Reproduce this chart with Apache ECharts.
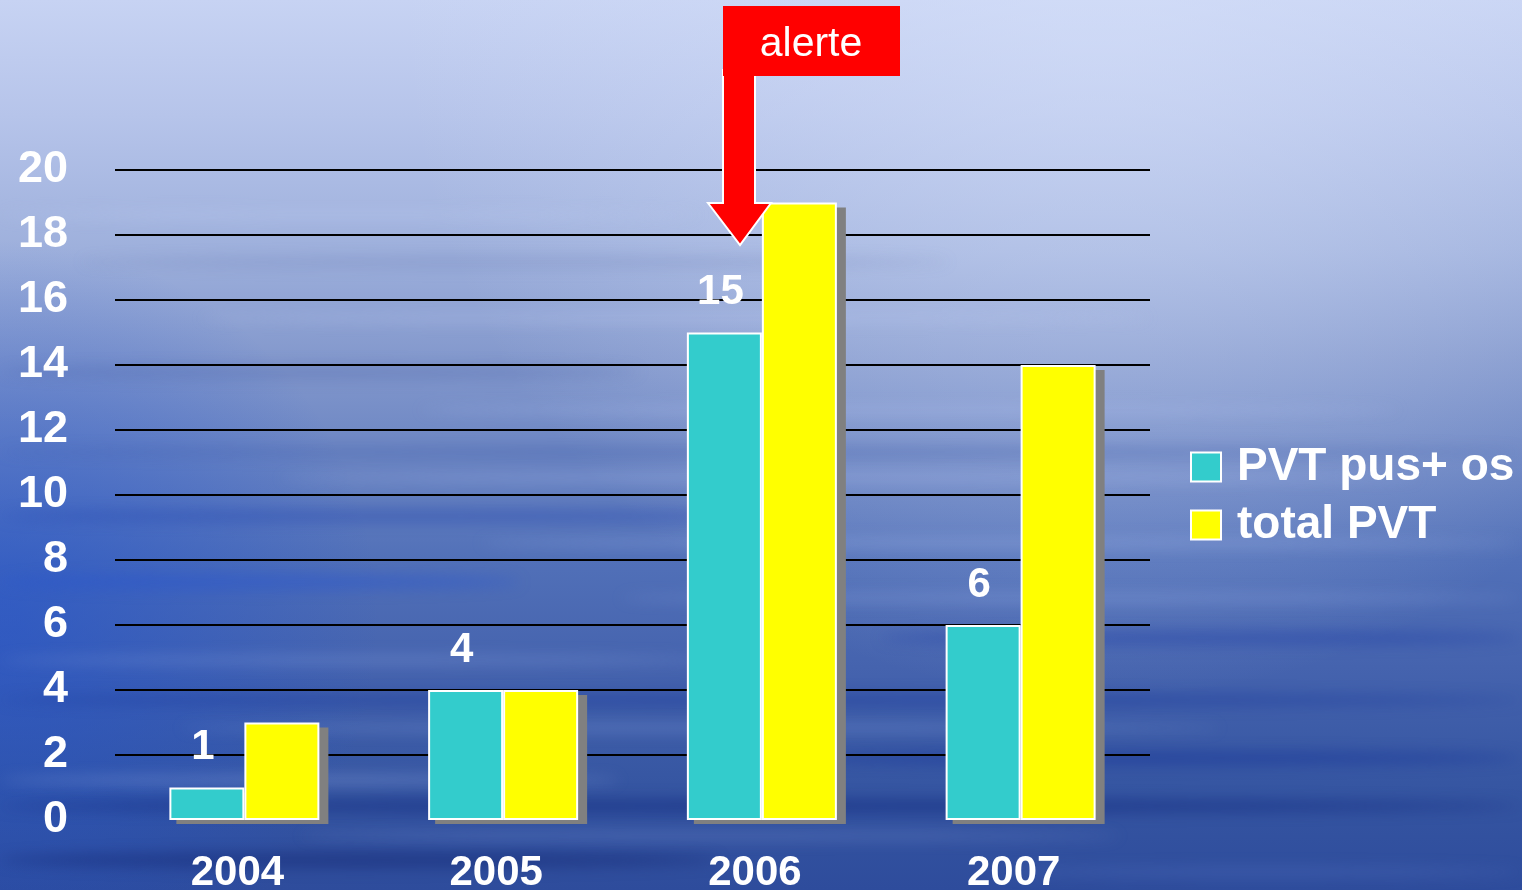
<!DOCTYPE html>
<html>
<head>
<meta charset="utf-8">
<title>PVT 2004-2007</title>
<script src="https://cdn.jsdelivr.net/npm/echarts@6/dist/echarts.min.js"></script>
<style>
  html, body { margin: 0; padding: 0; width: 1522px; height: 890px; overflow: hidden; }
  #wrap { position: relative; width: 1522px; height: 890px; overflow: hidden; }
  #bg { position: absolute; left: 0; top: 0; }
  #chart { position: absolute; left: 0; top: 0; width: 1522px; height: 890px; }
</style>
</head>
<body>
<div id="wrap">
  <canvas id="bg" width="1522" height="890"></canvas>
  <div id="chart"></div>
</div>
<script>
// Years on the category axis
const years = ['2004', '2005', '2006', '2007'];
// PVT with pus and bone involvement
const pvtPusOs = [1, 4, 15, 6];
// All PVT cases
const totalPvt = [3, 4, 19, 14];
// Value axis ticks
const yTicks = [0, 2, 4, 6, 8, 10, 12, 14, 16, 18, 20];
const seriesNames = ['PVT pus+ os', 'total PVT'];
const calloutText = 'alerte';

const FONT = '"Liberation Sans", Arial, sans-serif';
const BAR_W = 75;

/* ---------- water backdrop ---------- */
(function paintBackdrop() {
  const cv = document.getElementById('bg');
  const ctx = cv.getContext('2d');
  const W = cv.width, H = cv.height;

  const g = ctx.createLinearGradient(0, 0, 0, H);
  g.addColorStop(0.00, '#c7d3f3');
  g.addColorStop(0.13, '#b6c4ea');
  g.addColorStop(0.28, '#9eb0dc');
  g.addColorStop(0.40, '#8499cd');
  g.addColorStop(0.52, '#6a84c2');
  g.addColorStop(0.63, '#5170b8');
  g.addColorStop(0.75, '#4563ae');
  g.addColorStop(0.88, '#3656a2');
  g.addColorStop(1.00, '#2e4c9c');
  ctx.fillStyle = g;
  ctx.fillRect(0, 0, W, H);

  // brighter sky towards the top right
  const sky = ctx.createRadialGradient(1100, 0, 50, 1100, 0, 700);
  sky.addColorStop(0, 'rgba(215,225,250,0.55)');
  sky.addColorStop(1, 'rgba(215,225,250,0)');
  ctx.fillStyle = sky;
  ctx.fillRect(0, 0, W, H);

  // saturated blue glow on the left, mid height
  const glow = ctx.createRadialGradient(0, 620, 20, 0, 620, 380);
  glow.addColorStop(0, 'rgba(30,80,205,0.55)');
  glow.addColorStop(1, 'rgba(30,80,205,0)');
  ctx.fillStyle = glow;
  ctx.fillRect(0, 0, W, H);

  // horizontal ripples: [y, x0, x1, thickness, colour]
  const ripples = [
    [215, 0, 700, 10, 'rgba(185,200,238,0.35)'],
    [262, 80, 950, 12, 'rgba(95,115,175,0.22)'],
    [318, 200, 1150, 10, 'rgba(185,200,240,0.30)'],
    [372, 0, 640, 14, 'rgba(70,95,165,0.28)'],
    [410, 420, 1400, 10, 'rgba(175,192,238,0.30)'],
    [452, 0, 1522, 12, 'rgba(55,85,165,0.30)'],
    [478, 280, 1420, 9, 'rgba(170,188,236,0.32)'],
    [516, 0, 820, 14, 'rgba(35,70,175,0.40)'],
    [543, 480, 1522, 10, 'rgba(160,180,232,0.32)'],
    [582, 0, 520, 16, 'rgba(40,85,205,0.45)'],
    [598, 620, 1522, 10, 'rgba(150,172,228,0.30)'],
    [638, 880, 1522, 14, 'rgba(28,60,165,0.42)'],
    [660, 0, 720, 10, 'rgba(140,165,225,0.30)'],
    [700, 0, 1522, 14, 'rgba(25,55,155,0.42)'],
    [728, 180, 1220, 9, 'rgba(140,165,225,0.30)'],
    [758, 780, 1522, 14, 'rgba(20,50,150,0.48)'],
    [780, 0, 620, 10, 'rgba(150,172,228,0.35)'],
    [806, 0, 1522, 14, 'rgba(15,40,125,0.50)'],
    [836, 300, 1120, 10, 'rgba(140,165,225,0.25)'],
    [860, 0, 720, 16, 'rgba(20,40,115,0.50)'],
    [872, 1000, 1522, 10, 'rgba(90,120,200,0.30)']
  ];
  ctx.filter = 'blur(7px)';
  ripples.forEach(function (r) {
    const y = r[0], x0 = r[1], x1 = r[2], t = r[3];
    ctx.fillStyle = r[4];
    ctx.beginPath();
    ctx.ellipse((x0 + x1) / 2, y, (x1 - x0) / 2, t / 2, 0, 0, Math.PI * 2);
    ctx.fill();
  });
  ctx.filter = 'none';
})();

/* ---------- chart ---------- */
const chart = echarts.init(document.getElementById('chart'), null, { renderer: 'canvas' });

// Gray drop shadow behind each bar (drawn separately so the white border stays clean)
function shadowRenderer(side) {
  return function (params, api) {
    const idx = api.value(0);
    const val = api.value(1);
    const base = api.coord([idx, 0]);
    const top = api.coord([idx, val]);
    const x = side < 0 ? base[0] - BAR_W : base[0];
    return {
      type: 'rect',
      shape: { x: x + 8 - 1, y: top[1] + 6 - 1, width: BAR_W + 2, height: base[1] - top[1] - 1 },
      style: { fill: '#808080' }
    };
  };
}

const labelFont = { color: '#ffffff', fontFamily: FONT, fontWeight: 'bold' };

chart.setOption({
  backgroundColor: 'transparent',
  animation: false,
  grid: { left: 115, right: 372, top: 170, bottom: 70, containLabel: false, outerBoundsMode: 'none' },
  legend: {
    orient: 'vertical',
    left: 1190,
    top: 444,
    padding: 0,
    itemWidth: 30,
    itemHeight: 29,
    itemGap: 12,
    icon: 'rect',
    data: seriesNames,
    textStyle: Object.assign({ fontSize: 46, padding: [0, 0, 0, 11] }, labelFont),
    itemStyle: { borderColor: '#ffffff', borderWidth: 2 }
  },
  xAxis: {
    type: 'category',
    data: years,
    axisLine: { show: false },
    axisTick: { show: false },
    axisLabel: Object.assign({ fontSize: 42, margin: 32, padding: [0, 14, 0, 0] }, labelFont)
  },
  yAxis: {
    type: 'value',
    min: yTicks[0],
    max: yTicks[yTicks.length - 1],
    interval: yTicks[1] - yTicks[0],
    axisLine: { show: false },
    axisTick: { show: false },
    axisLabel: Object.assign({ fontSize: 45, margin: 47, padding: [9, 0, 0, 0] }, labelFont),
    splitLine: { show: true, showMinLine: false, lineStyle: { color: '#000000', width: 2 } }
  },
  series: [
    {
      type: 'custom',
      name: 'shadow-a',
      silent: true,
      z: 1,
      renderItem: shadowRenderer(-1),
      encode: { x: 0, y: 1 },
      data: pvtPusOs.map(function (v, i) { return [i, v]; })
    },
    {
      type: 'custom',
      name: 'shadow-b',
      silent: true,
      z: 1,
      renderItem: shadowRenderer(1),
      encode: { x: 0, y: 1 },
      data: totalPvt.map(function (v, i) { return [i, v]; })
    },
    {
      name: seriesNames[0],
      type: 'bar',
      z: 2,
      data: pvtPusOs,
      barWidth: BAR_W,
      barGap: '0%',
      itemStyle: { color: '#33CCCC', borderColor: '#ffffff', borderWidth: 2 },
      label: Object.assign({
        show: true, position: 'top', distance: 19, fontSize: 42, offset: [-4, 0]
      }, labelFont)
    },
    {
      name: seriesNames[1],
      type: 'bar',
      z: 2,
      data: totalPvt,
      barWidth: BAR_W,
      barGap: '0%',
      itemStyle: { color: '#FFFF00', borderColor: '#ffffff', borderWidth: 2 }
    }
  ],
  graphic: [
    {
      // downward arrow pointing at 2006
      type: 'polygon',
      z: 100,
      shape: {
        points: [[723, 70], [755, 70], [755, 203], [771, 203], [740, 245], [708, 203], [723, 203]]
      },
      style: { fill: '#FF0000', stroke: '#ffffff', lineWidth: 2, lineJoin: 'miter' }
    },
    {
      type: 'rect',
      z: 101,
      shape: { x: 723, y: 6, width: 177, height: 70 },
      style: { fill: '#FF0000' }
    },
    {
      type: 'text',
      z: 102,
      x: 811,
      y: 45,
      style: {
        text: calloutText,
        fill: '#ffffff',
        font: 'normal 41px ' + FONT,
        align: 'center',
        verticalAlign: 'middle'
      }
    }
  ]
});
</script>
</body>
</html>
